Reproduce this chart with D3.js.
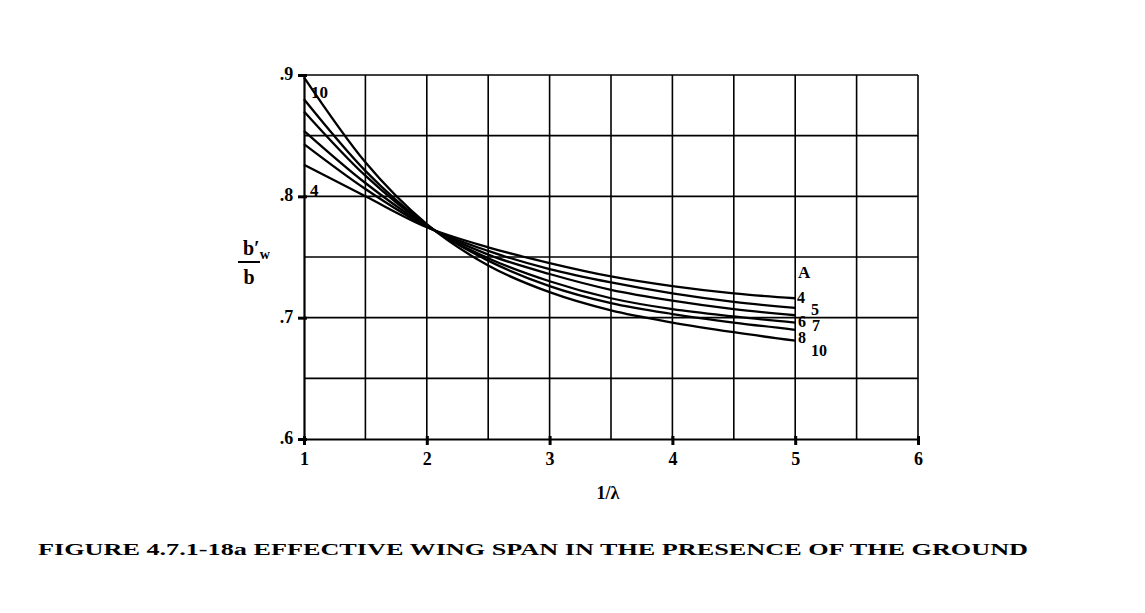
<!DOCTYPE html>
<html><head><meta charset="utf-8">
<script src="https://cdn.jsdelivr.net/npm/d3@7"></script>
<style>body{margin:0;background:#fff}svg{display:block}</style>
</head><body>
<svg id="c" width="1145" height="613"></svg>
<script>
const xValues = [1, 1.5, 2, 2.5, 3, 3.5, 4, 4.5, 5];
const seriesA4  = [0.826, 0.800, 0.7745, 0.758, 0.745, 0.734, 0.726, 0.720, 0.716];
const seriesA5  = [0.843, 0.806, 0.775, 0.755, 0.740, 0.729, 0.720, 0.713, 0.708];
const seriesA6  = [0.854, 0.811, 0.7755, 0.752, 0.736, 0.723, 0.714, 0.707, 0.702];
const seriesA7  = [0.870, 0.817, 0.776, 0.749, 0.730, 0.716, 0.707, 0.701, 0.696];
const seriesA8  = [0.880, 0.821, 0.7765, 0.747, 0.726, 0.712, 0.703, 0.696, 0.690];
const seriesA10 = [0.898, 0.828, 0.777, 0.743, 0.721, 0.706, 0.696, 0.688, 0.681];
const seriesNames = ["4", "5", "6", "7", "8", "10"];
const xTicks = [1, 2, 3, 4, 5, 6];
const yTicks = [0.6, 0.7, 0.8, 0.9];
const yTickLabels = [".6", ".7", ".8", ".9"];
const title = "FIGURE 4.7.1-18a  EFFECTIVE WING SPAN IN THE PRESENCE OF THE GROUND";

const allSeries = [seriesA4, seriesA5, seriesA6, seriesA7, seriesA8, seriesA10];
const svg = d3.select("#c");
const font = "'Liberation Serif', 'DejaVu Serif', serif";
const x = d3.scaleLinear().domain([1, 6]).range([304, 918]);
const y = d3.scaleLinear().domain([0.6, 0.9]).range([439, 75]);

// grid
const g = svg.append("g").attr("stroke", "#000").attr("stroke-width", 1.6);
d3.range(1.5, 6.01, 0.5).forEach(v => {
  g.append("line").attr("x1", x(v)).attr("x2", x(v)).attr("y1", y(0.9)).attr("y2", y(0.6));
});
d3.range(0.65, 0.901, 0.05).forEach(v => {
  g.append("line").attr("x1", x(1)).attr("x2", x(6)).attr("y1", y(v)).attr("y2", y(v));
});

// axes
const xAxis = d3.axisBottom(x).tickValues(xTicks).tickSize(6).tickFormat(d3.format("d"));
const yAxis = d3.axisLeft(y).tickValues(yTicks).tickSize(6).tickFormat((d, i) => yTickLabels[i]);
const gx = svg.append("g").attr("transform", `translate(0,${y(0.6)})`).call(xAxis);
const gy = svg.append("g").attr("transform", `translate(${x(1)},0)`).call(yAxis);
[gx, gy].forEach(a => {
  a.select(".domain").attr("stroke", "#000").attr("stroke-width", 2.2);
  a.selectAll(".tick line").attr("stroke", "#000").attr("stroke-width", 3);
  a.selectAll(".tick text").attr("font-family", font).attr("font-weight", "bold")
    .attr("font-size", 18).attr("fill", "#000");
});
gx.selectAll(".tick line").attr("y1", -3).attr("y2", 6);
gx.selectAll(".tick text").attr("dy", "0.95em");
gy.selectAll(".tick line").attr("x1", 3).attr("x2", -6);
gy.selectAll(".tick text").attr("dx", "-0.1em").attr("dy", "0.25em");

// curves
const line = d3.line().x((d, i) => x(xValues[i])).y(d => y(d)).curve(d3.curveMonotoneX);
svg.append("g").selectAll("path").data(allSeries).join("path")
  .attr("d", d => line(d)).attr("fill", "none").attr("stroke", "#000").attr("stroke-width", 2.3);

// curve labels
const lbl = (t, px, py, fs = 16) => svg.append("text").attr("x", px).attr("y", py)
  .attr("font-family", font).attr("font-weight", "bold").attr("font-size", fs).text(t);
lbl(seriesNames[5], 311, 98, 17);
lbl(seriesNames[0], 310, 196, 17);
lbl("A", 798, 278, 17);
lbl(seriesNames[0], 797, 303);
lbl(seriesNames[1], 811, 315);
lbl(seriesNames[2], 798, 327);
lbl(seriesNames[3], 812, 331);
lbl(seriesNames[4], 798, 343);
lbl(seriesNames[5], 811, 356);

// axis titles
svg.append("text").attr("x", 608).attr("y", 499).attr("text-anchor", "middle")
  .attr("font-family", font).attr("font-weight", "bold").attr("font-size", 18).text("1/λ");
const yl = svg.append("g");
yl.append("text").attr("x", 243).attr("y", 255).attr("font-family", font)
  .attr("font-weight", "bold").attr("font-size", 20).text("b′")
  .append("tspan").attr("font-size", 14).attr("dy", 4).text("w");
yl.append("line").attr("x1", 238).attr("x2", 260).attr("y1", 262).attr("y2", 262)
  .attr("stroke", "#000").attr("stroke-width", 2);
yl.append("text").attr("x", 249).attr("y", 284).attr("text-anchor", "middle").attr("font-family", font)
  .attr("font-weight", "bold").attr("font-size", 20).text("b");

// caption
svg.append("text").attr("x", 38).attr("y", 555).attr("font-family", font).attr("font-weight", "bold")
  .attr("font-size", 17).attr("textLength", 990).attr("lengthAdjust", "spacingAndGlyphs").text(title);
</script>
</body></html>
